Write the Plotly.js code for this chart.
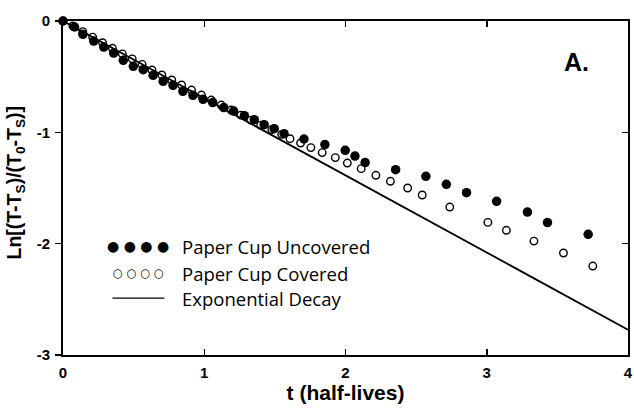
<!DOCTYPE html>
<html>
<head>
<meta charset="utf-8">
<script src="https://cdn.plot.ly/plotly-3.0.1.min.js"></script>
<style>html,body{margin:0;padding:0;background:#fff;}#chart{width:634px;height:410px;}</style>
</head>
<body>
<div id="chart"></div>
<script>
// Paper Cup Uncovered (filled dots)
const uncoveredT = [0, 0.082, 0.141, 0.218, 0.289, 0.359, 0.427, 0.498, 0.568, 0.638, 0.709, 0.779, 0.849, 0.920, 0.992, 1.060, 1.138, 1.208, 1.284, 1.354, 1.424, 1.495, 1.565, 1.706, 1.854, 1.998, 2.067, 2.139, 2.355, 2.569, 2.714, 2.857, 3.070, 3.288, 3.430, 3.718];
const uncoveredLn = [0, -0.054, -0.12, -0.18, -0.234, -0.288, -0.353, -0.407, -0.437, -0.488, -0.542, -0.578, -0.632, -0.668, -0.703, -0.733, -0.778, -0.809, -0.850, -0.886, -0.931, -0.967, -1.012, -1.06, -1.11, -1.162, -1.213, -1.272, -1.335, -1.395, -1.467, -1.542, -1.62, -1.716, -1.811, -1.916];
// Paper Cup Covered (open circles)
const coveredT = [0, 0.07, 0.14, 0.21, 0.28, 0.35, 0.42, 0.49, 0.56, 0.63, 0.70, 0.77, 0.84, 0.91, 0.98, 1.05, 1.12, 1.19, 1.26, 1.33, 1.40, 1.478, 1.548, 1.607, 1.682, 1.755, 1.835, 1.928, 2.013, 2.111, 2.215, 2.318, 2.44, 2.543, 2.738, 3.008, 3.139, 3.334, 3.543, 3.751];
const coveredLn = [0, -0.045, -0.095, -0.145, -0.195, -0.245, -0.295, -0.34, -0.39, -0.44, -0.485, -0.53, -0.575, -0.62, -0.665, -0.71, -0.755, -0.80, -0.845, -0.89, -0.935, -0.975, -1.018, -1.057, -1.096, -1.137, -1.182, -1.227, -1.276, -1.326, -1.386, -1.44, -1.50, -1.563, -1.671, -1.809, -1.88, -1.977, -2.084, -2.201];
// Exponential decay (straight line in log space)
const decayT = [0, 4];
const decayLn = [0, -2.7726];

const xTicks = [0, 1, 2, 3, 4];
const yTicks = [0, -1, -2, -3];
const legendLabels = ['Paper Cup Uncovered', 'Paper Cup Covered', 'Exponential Decay'];
const legendSymbols = ['\u25CF \u25CF \u25CF \u25CF', '\u25CB \u25CB \u25CB \u25CB', ''];
const yTitle = '<b>Ln[(T-T<sub>S</sub>)/(T<sub>0</sub>-T<sub>S</sub>)]</b>';

const traces = [
  {x: decayT, y: decayLn, mode: 'lines', line: {color: '#000', width: 1.8}, showlegend: false, cliponaxis: false},
  {x: coveredT, y: coveredLn, mode: 'markers', marker: {symbol: 'circle-open', size: 7.5, color: '#000', line: {width: 1.4, color: '#000'}}, showlegend: false, cliponaxis: false},
  {x: uncoveredT, y: uncoveredLn, mode: 'markers', marker: {symbol: 'circle', size: 9.5, color: '#000'}, showlegend: false, cliponaxis: false},
  {x: [], y: [], yaxis: 'y2', showlegend: false}
];

const legY = [0.325, 0.245, 0.170];
const annotations = [];
legendLabels.forEach((lab, i) => {
  annotations.push({xref: 'paper', yref: 'paper', x: 0.2070, y: legY[i], xanchor: 'left', yanchor: 'middle', showarrow: false, text: lab, font: {family: 'Open Sans, sans-serif', size: 18.5, color: '#000'}});
  if (legendSymbols[i]) {
    annotations.push({xref: 'paper', yref: 'paper', x: 0.133, y: legY[i], xanchor: 'center', yanchor: 'middle', showarrow: false, text: legendSymbols[i], font: {family: 'DejaVu Sans, sans-serif', size: i === 0 ? 14 : 11.5, color: '#000'}});
  }
});
annotations.push({xref: 'paper', yref: 'paper', x: 0.909, y: 0.876, xanchor: 'center', yanchor: 'middle', showarrow: false, text: '<b>A.</b>', font: {family: 'Liberation Sans, Arial, sans-serif', size: 25, color: '#000'}});
annotations.push({xref: 'paper', yref: 'paper', x: -0.084, y: 0.515, xanchor: 'center', yanchor: 'middle', textangle: -90, showarrow: false, text: yTitle, font: {family: 'Liberation Sans, Arial, sans-serif', size: 19.5, color: '#000'}});

const shapes = [
  {type: 'line', xref: 'paper', yref: 'paper', x0: 0.0875, x1: 0.1795, y0: legY[2], y1: legY[2], line: {color: '#000', width: 1.3}}
];

const tickFont = {family: 'Liberation Sans, Arial, sans-serif', size: 15, color: '#000', weight: 'bold'};

const layout = {
  width: 634, height: 410,
  margin: {l: 63, r: 6, t: 21, b: 55},
  paper_bgcolor: '#fff', plot_bgcolor: '#fff',
  showlegend: false,
  xaxis: {
    range: [0, 4], tickvals: xTicks, ticktext: xTicks.map(String),
    ticks: 'inside', ticklen: 6, tickwidth: 1.5, tickcolor: '#000',
    showline: true, linewidth: 2, linecolor: '#000', mirror: 'ticks',
    showgrid: false, zeroline: false,
    tickfont: tickFont, ticklabelstandoff: 3, ticklabeloverflow: 'allow',
    title: {text: '<b>t (half-lives)</b>', font: {family: 'Liberation Sans, Arial, sans-serif', size: 21, color: '#000'}, standoff: 1}
  },
  yaxis: {
    range: [-3, 0], tickvals: yTicks, ticktext: ['0', '-1', '-2', '-3'],
    ticks: 'outside', ticklen: 6, tickwidth: 1.5, tickcolor: '#000',
    showline: true, linewidth: 2, linecolor: '#000', mirror: true,
    showgrid: false, zeroline: false,
    tickfont: tickFont, ticklabelstandoff: 2, ticklabeloverflow: 'allow'
  },
  yaxis2: {
    overlaying: 'y', side: 'right', range: [-3, 0], tickvals: yTicks,
    ticks: 'inside', ticklen: 6, tickwidth: 1.5, tickcolor: '#000',
    showticklabels: false, showline: false, showgrid: false, zeroline: false
  },
  annotations: annotations,
  shapes: shapes
};

Plotly.newPlot('chart', traces, layout, {displayModeBar: false, staticPlot: true});
</script>
</body>
</html>
